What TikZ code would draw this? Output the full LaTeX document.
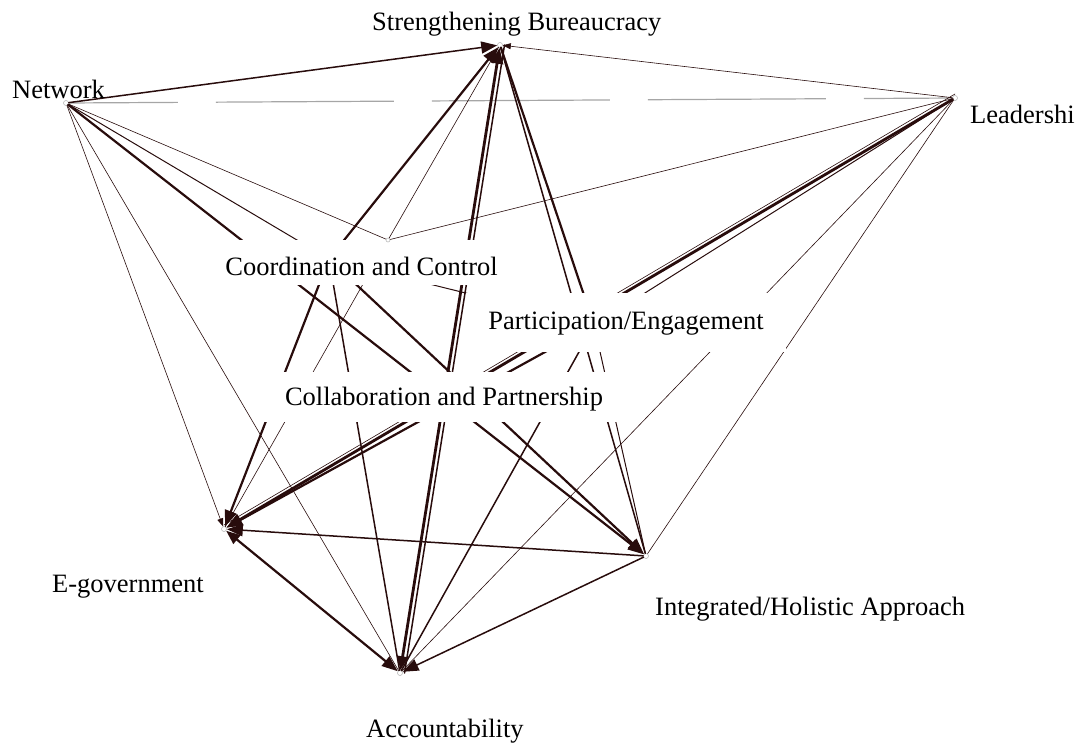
\documentclass[tikz,border=0pt]{standalone}
\usepackage{fontspec}
\setmainfont{Liberation Serif}
\usetikzlibrary{arrows.meta}
\definecolor{ec}{RGB}{40,12,12}
\tikzset{
  vtx/.style={circle,draw=gray!55,fill=white,inner sep=0pt,minimum size=5pt,line width=0.6pt},
  hid/.style={inner sep=0pt,minimum size=2pt},
  lab/.style={inner sep=0pt,font=\fontsize{26.5}{30}\selectfont,text=black},
  box/.style={lab,fill=white,inner xsep=22pt,inner ysep=0pt},
  ed/.style={draw=ec,line cap=round},
  wa/.style={ed,line width=0.6pt},
  wb/.style={ed,line width=1.0pt},
  wc/.style={ed,line width=1.5pt},
  wd/.style={ed,line width=2.2pt},
  we/.style={ed,line width=2.8pt},
  ar/.style={-{Triangle[length=16pt,width=12pt]}},
  ars/.style={-{Triangle[length=8pt,width=6pt]}},
  arb/.style={{Triangle[length=14pt,width=11pt]}-{Triangle[length=16pt,width=12pt]}},
}
\begin{document}
\begin{tikzpicture}[x=1pt,y=-1pt]
\useasboundingbox (0,0) rectangle (1081,745);
% vertices
\node[vtx] (N) at (66,103) {};
\node[vtx] (SB) at (500,45) {};
\node[vtx] (L) at (955,98) {};
\node[hid] (CC) at (329,259) {};
\node[hid] (CP) at (388,240) {};
\node[hid] (PE) at (594,325) {};
\node[vtx] (EG) at (224,529) {};
\node[vtx] (IH) at (646,556) {};
\node[vtx] (AC) at (400,673) {};
% connectors
\draw[gray!70,line width=1.2pt,dash pattern=on 178pt off 38pt,dash phase=69pt] (N) -- (L);
\draw[wc,ar] (N) -- (SB);
\draw[wa,ars] (L) -- (SB);
\draw[wa,ars] (N) -- (EG);
\draw[wa] (N) -- (AC);
\draw[wd,ar] (N) -- (IH);
\draw[wa] (N) -- (CP);
\draw[wb] (N) -- (CC);
% Strengthening Bureaucracy
\draw[wd,ar] (CC) -- (SB);
\draw[wa] (CP) -- (SB);
\draw[we,arb] (AC) -- (SB);
\draw[wc] ([xshift=4.5pt]AC.center) -- ([xshift=4.5pt]SB.center);
\draw[wc] (SB) -- (IH);
\draw[wd] (SB) -- (PE);
% Leadership
\draw[wa] (L) -- (CP);
\draw[we,ar] (L) -- (EG);
\draw[wa] ([yshift=4pt]L.center) -- ([yshift=4pt]EG.center);
\draw[wb] (L) -- (PE);
\draw[wa] (L) -- (AC);
\draw[wa] (L) -- (IH);
% Participation
\draw[wd,ar] (PE) -- (EG);
\draw[wc] (PE) -- (AC);
\draw[wb] (PE) -- (IH);
\draw[wb] (CC) -- (PE);
% Coordination
\draw[wd,ar] (CC) -- (EG);
\draw[wc] (CC) -- (AC);
\draw[wd,ar] (CC) -- (IH);
% Collaboration
\draw[wa] (CP) -- (EG);
% lower triangle
\draw[wc,ar] (IH) -- (EG);
\draw[wd,arb] (EG) -- (AC);
\draw[wc,ar] (IH) -- (AC);
% middle labels with white boxes
\node[box,anchor=base,text height=35pt,text depth=10pt] (CCl) at (361.5,275) {Coordination and Control};
\node[box,anchor=base,text height=36pt,text depth=23pt] (PEl) at (626,329) {Participation/Engagement};
\node[box,anchor=base,text height=33pt,text depth=17pt] (CPl) at (444,405) {Collaboration and Partnership};
\node[vtx,minimum size=4pt] (CPm) at (CP) {};
% outer labels
\node[lab,anchor=base west] (SBl) at (372,30) {Strengthening Bureaucracy};
\node[lab,anchor=base west] (Nl) at (12,98) {Network};
\node[lab,anchor=base west] (Ll) at (970,123) {Leadershi};
\node[lab,anchor=base west] (EGl) at (52,592) {E-government};
\node[lab,anchor=base west] (IHl) at (655,615) {Integrated/Holistic Approach};
\node[lab,anchor=base west] (ACl) at (366,737) {Accountability};
\end{tikzpicture}
\end{document}
